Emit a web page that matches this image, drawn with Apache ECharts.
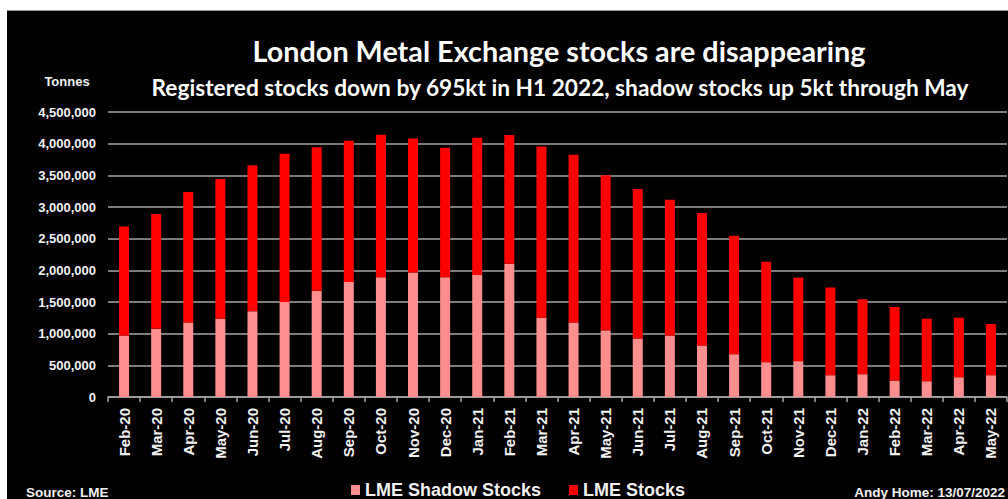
<!DOCTYPE html>
<html>
<head>
<meta charset="utf-8">
<script src="https://cdn.jsdelivr.net/npm/echarts@6/dist/echarts.min.js"></script>
<style>
html,body{margin:0;padding:0;background:#fff;width:1008px;height:499px;overflow:hidden;}
#bg{position:absolute;left:7px;top:10px;width:1001px;height:489px;background:#000;border-top:1px solid #9a9a9a;box-sizing:border-box;}
#chart{position:absolute;left:0;top:0;width:1008px;height:499px;}
</style>
</head>
<body>
<div id="bg"></div>
<div id="chart"></div>
<script>
var categories = ["Feb-20","Mar-20","Apr-20","May-20","Jun-20","Jul-20","Aug-20","Sep-20","Oct-20","Nov-20","Dec-20",
  "Jan-21","Feb-21","Mar-21","Apr-21","May-21","Jun-21","Jul-21","Aug-21","Sep-21","Oct-21","Nov-21","Dec-21",
  "Jan-22","Feb-22","Mar-22","Apr-22","May-22"];
var shadowStocks = [973000,1077000,1178000,1236000,1353000,1500000,1679000,1817000,1891000,1965000,1891000,
  1928000,2102000,1252000,1178000,1052000,925000,972000,814000,676000,550000,566000,344000,
  360000,260000,249000,312000,344000];
var lmeStocks = [1720000,1813000,2060000,2208000,2307000,2340000,2266000,2229000,2250000,2118000,2044000,
  2166000,2033000,2704000,2646000,2449000,2361000,2144000,2091000,1870000,1584000,1319000,1383000,
  1183000,1161000,987000,940000,808000];
var seriesNames = ["LME Shadow Stocks","LME Stocks"];
var yTicks = [0,500000,1000000,1500000,2000000,2500000,3000000,3500000,4000000,4500000];
var titleText = "London Metal Exchange stocks are disappearing";
var subtitleText = "Registered stocks down by 695kt in H1 2022, shadow stocks up 5kt through May";
var unitText = "Tonnes";
var sourceText = "Source: LME";
var creditText = "Andy Home: 13/07/2022";

var chart = echarts.init(document.getElementById('chart'), null, {renderer:'svg'});
var labelColor = '#f2f2f2';
chart.setOption({
  backgroundColor: 'transparent',
  animation: false,
  textStyle: {fontFamily: '"Liberation Sans", Arial, sans-serif'},
  graphic: [
    {type:'text', x:559, y:51, style:{text:titleText, fill:'#ffffff', font:'bold 28.8px Lato', textAlign:'center', textVerticalAlign:'middle'}},
    {type:'text', x:560, y:87, style:{text:subtitleText, fill:'#ffffff', font:'bold 22.7px Lato', textAlign:'center', textVerticalAlign:'middle'}},
    {type:'text', x:67, y:81, style:{text:unitText, fill:labelColor, font:'bold 13px "Liberation Sans"', textAlign:'center', textVerticalAlign:'middle'}},
    {type:'text', x:26, y:492, style:{text:sourceText, fill:labelColor, font:'bold 13.5px "Liberation Sans"', textAlign:'left', textVerticalAlign:'middle'}},
    {type:'text', x:1005, y:492, style:{text:creditText, fill:labelColor, font:'bold 13.5px "Liberation Sans"', textAlign:'right', textVerticalAlign:'middle'}}
  ],
  legend: {
    data: seriesNames,
    left: 346, top: 476,
    icon: 'rect', itemWidth: 9, itemHeight: 10, itemGap: 28,
    textStyle: {color: labelColor, fontSize: 18, fontWeight: 'bold', fontFamily: '"Liberation Sans", Arial, sans-serif'}
  },
  grid: {left: 108, right: 1, top: 112, bottom: 102, containLabel: false},
  xAxis: {
    type: 'category', data: categories, boundaryGap: true,
    axisLine: {show: true, lineStyle: {color: '#a6a6a6', width: 1.5}},
    axisTick: {show: true, alignWithLabel: false, length: 5, lineStyle: {color: '#a6a6a6', width: 1.5}},
    axisLabel: {rotate: 90, interval: 0, margin: 11, color: labelColor, fontSize: 15, fontWeight: 'bold'}
  },
  yAxis: {
    type: 'value', min: yTicks[0], max: yTicks[yTicks.length-1], interval: yTicks[1]-yTicks[0],
    axisLine: {show: false}, axisTick: {show: false},
    splitLine: {show: true, lineStyle: {color: '#a6a6a6', width: 1.5}},
    axisLabel: {margin: 12, color: labelColor, fontSize: 13, fontWeight: 'bold',
      formatter: function(v){ return v.toLocaleString('en-US'); }}
  },
  series: [
    {name: seriesNames[0], type: 'bar', stack: 'total', data: shadowStocks, barWidth: 10, itemStyle: {color: '#ff8f8f'}},
    {name: seriesNames[1], type: 'bar', stack: 'total', data: lmeStocks, barWidth: 10, itemStyle: {color: '#ff0000'}}
  ]
});
</script>
</body>
</html>
